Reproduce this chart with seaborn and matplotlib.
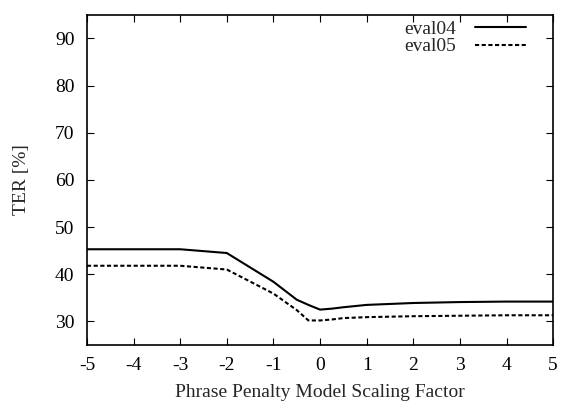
import matplotlib
matplotlib.use("Agg")
import matplotlib.pyplot as plt
import seaborn as sns
import pandas as pd

x_vals = [-5, -3, -2, -1, -0.5, -0.25, 0, 0.25, 0.5, 1, 2, 3, 4, 5]
eval04 = [45.3, 45.3, 44.5, 38.4, 34.6, 33.5, 32.5, 32.7, 33.0, 33.5, 33.9, 34.1, 34.2, 34.2]
eval05 = [41.8, 41.8, 41.0, 35.9, 32.4, 30.2, 30.2, 30.4, 30.7, 30.9, 31.1, 31.2, 31.3, 31.3]
series_names = ["eval04", "eval05"]
x_ticks = [-5, -4, -3, -2, -1, 0, 1, 2, 3, 4, 5]
y_ticks = [30, 40, 50, 60, 70, 80, 90]

df = pd.DataFrame({
    "x": x_vals * 2,
    "y": eval04 + eval05,
    "series": [series_names[0]] * len(x_vals) + [series_names[1]] * len(x_vals),
})

sns.set_style("ticks")
plt.rcParams['font.family'] = ['Liberation Serif', 'DejaVu Serif']

fig = plt.figure(figsize=(5.61, 4.03), dpi=100)
ax = fig.add_axes([0.155, 0.144, 0.831, 0.819])

sns.lineplot(data=df, x="x", y="y", hue="series", style="series",
             palette=["black", "black"],
             dashes={"eval04": "", "eval05": (2, 1.2)},
             linewidth=1.5, ax=ax, legend=True, sort=False)

ax.set_xlim(-5, 5)
ax.set_ylim(25, 95)
ax.set_xticks(x_ticks)
ax.set_xticklabels([str(t) for t in x_ticks])
ax.set_yticks(y_ticks)
ax.set_yticklabels([str(t) for t in y_ticks])
ax.tick_params(direction="in", top=True, right=True, length=5, width=0.8,
               labelsize=14, colors="black")
ax.tick_params(axis="x", pad=9)
ax.tick_params(axis="y", pad=9)
for s in ax.spines.values():
    s.set_linewidth(1.2)
    s.set_color("black")

ax.set_xlabel("Phrase Penalty Model Scaling Factor", fontsize=14, labelpad=7)
ax.set_ylabel("TER [%]", fontsize=14, labelpad=18)

leg = ax.legend(loc="upper right", bbox_to_anchor=(0.946, 0.99),
                frameon=False, markerfirst=False,
                fontsize=14, handlelength=2.6, handletextpad=1.0,
                borderaxespad=0, borderpad=0.1, labelspacing=0.0)

fig.savefig("out.png", dpi=100)
